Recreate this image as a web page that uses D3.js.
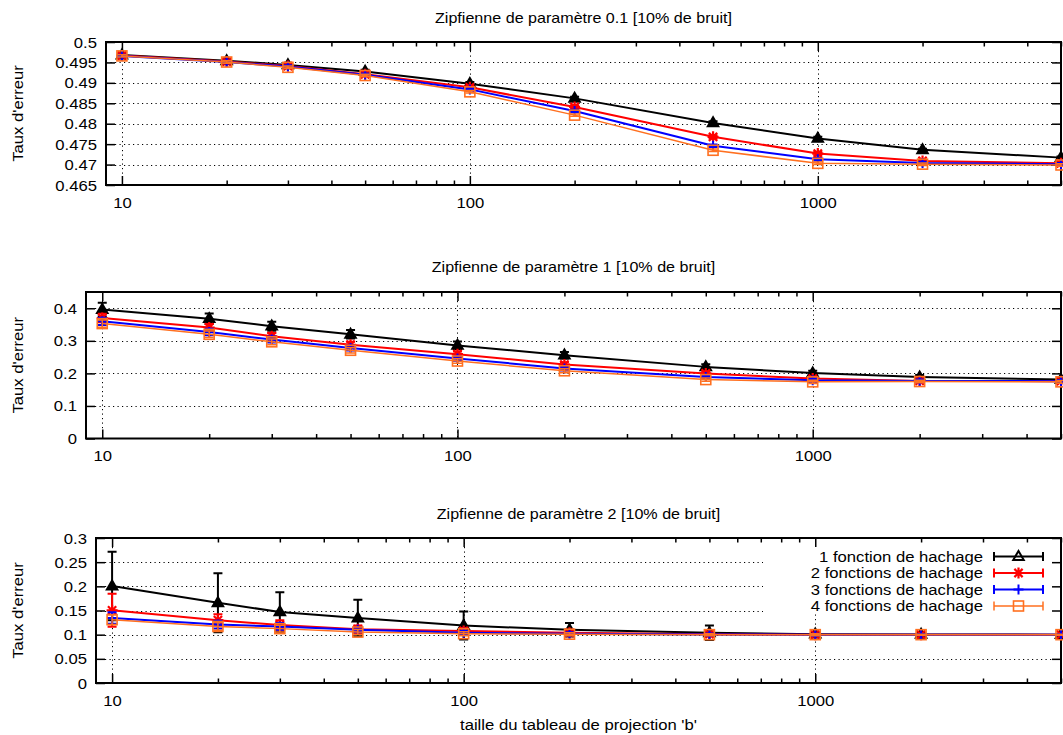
<!DOCTYPE html>
<html><head><meta charset="utf-8">
<script src="https://cdn.jsdelivr.net/npm/d3@7"></script>
<style>
html,body{margin:0;padding:0;background:#fff;}
svg{display:block;font-family:"Liberation Sans",Arial,sans-serif;}
</style></head>
<body>
<svg id="chart" width="1063" height="735"></svg>
<script>
// ---------------- DATA ----------------
const xValues = [10, 20, 30, 50, 100, 200, 500, 1000, 2000, 5000];
const seriesNames = ["1 fonction de hachage", "2 fonctions de hachage", "3 fonctions de hachage", "4 fonctions de hachage"];
const panelTitles = [
  "Zipfienne de paramètre 0.1 [10% de bruit]",
  "Zipfienne de paramètre 1 [10% de bruit]",
  "Zipfienne de paramètre 2 [10% de bruit]"
];
const yLabel = "Taux d'erreur";
const xLabel = "taille du tableau de projection 'b'";
const xTickLabels = [10, 100, 1000];

// panel 1 : Zipf 0.1
const p1_s1 = [0.4968, 0.4954, 0.4944, 0.4928, 0.4898, 0.4862, 0.4802, 0.4764, 0.4736, 0.4717];
const p1_s2 = [0.4967, 0.4952, 0.4941, 0.4921, 0.4889, 0.4841, 0.4768, 0.4727, 0.4709, 0.4703];
const p1_s3 = [0.4966, 0.4951, 0.4940, 0.4920, 0.4884, 0.4831, 0.4746, 0.4713, 0.4704, 0.4701];
const p1_s4 = [0.4966, 0.4951, 0.4938, 0.4918, 0.4878, 0.4821, 0.4735, 0.4703, 0.4701, 0.4699];
const p1_e1 = [0.0004, 0.0004, 0.0004, 0.0004, 0.0004, 0.0004, 0.0004, 0.0004, 0.0003, 0.0003];
const p1_e2 = [0.0004, 0.0004, 0.0004, 0.0004, 0.0004, 0.0004, 0.0004, 0.0004, 0.0003, 0.0003];
const p1_e3 = [0.0003, 0.0003, 0.0003, 0.0003, 0.0003, 0.0003, 0.0003, 0.0003, 0.0003, 0.0003];
const p1_e4 = [0.0003, 0.0003, 0.0003, 0.0003, 0.0003, 0.0003, 0.0003, 0.0003, 0.0003, 0.0003];
const p1_yTicks = [0.465, 0.47, 0.475, 0.48, 0.485, 0.49, 0.495, 0.5];

// panel 2 : Zipf 1
const p2_s1 = [0.396, 0.368, 0.345, 0.320, 0.286, 0.256, 0.220, 0.201, 0.189, 0.181];
const p2_s2 = [0.370, 0.341, 0.314, 0.288, 0.259, 0.227, 0.200, 0.184, 0.177, 0.176];
const p2_s3 = [0.360, 0.327, 0.304, 0.278, 0.246, 0.215, 0.189, 0.179, 0.177, 0.176];
const p2_s4 = [0.353, 0.320, 0.297, 0.271, 0.238, 0.208, 0.181, 0.174, 0.175, 0.174];
const p2_e1 = [0.021, 0.016, 0.014, 0.013, 0.012, 0.010, 0.008, 0.007, 0.006, 0.005];
const p2_e2 = [0.013, 0.011, 0.010, 0.009, 0.008, 0.007, 0.006, 0.005, 0.005, 0.005];
const p2_e3 = [0.011, 0.010, 0.009, 0.008, 0.007, 0.006, 0.005, 0.005, 0.004, 0.004];
const p2_e4 = [0.011, 0.010, 0.009, 0.008, 0.007, 0.006, 0.005, 0.005, 0.004, 0.004];
const p2_yTicks = [0, 0.1, 0.2, 0.3, 0.4];

// panel 3 : Zipf 2
const p3_s1 = [0.2007, 0.166, 0.147, 0.1345, 0.119, 0.110, 0.104, 0.101, 0.1005, 0.100];
const p3_s2 = [0.1504, 0.130, 0.120, 0.111, 0.1077, 0.104, 0.101, 0.100, 0.100, 0.100];
const p3_s3 = [0.1345, 0.121, 0.117, 0.110, 0.104, 0.102, 0.1005, 0.100, 0.100, 0.100];
const p3_s4 = [0.131, 0.117, 0.1125, 0.1055, 0.102, 0.101, 0.100, 0.100, 0.100, 0.100];
const p3_e1 = [0.071, 0.061, 0.041, 0.038, 0.029, 0.014, 0.015, 0.004, 0.003, 0.002];
const p3_e2 = [0.034, 0.012, 0.010, 0.008, 0.006, 0.004, 0.003, 0.002, 0.002, 0.001];
const p3_e3 = [0.012, 0.008, 0.007, 0.005, 0.004, 0.003, 0.002, 0.002, 0.001, 0.001];
const p3_e4 = [0.010, 0.008, 0.007, 0.005, 0.004, 0.003, 0.002, 0.002, 0.001, 0.001];
const p3_yTicks = [0, 0.05, 0.1, 0.15, 0.2, 0.25, 0.3];

// ---------------- LAYOUT / STYLE ----------------
const colors = ["#000000", "#ff0000", "#0000ff", "#ff7020"];
const widths = [2, 2, 2, 1.5];
const markers = ["triangle", "star", "plus", "square"];
const FS = 14.5, SX = 1.15;

const panels = [
  {title: panelTitles[0], s: [p1_s1, p1_s2, p1_s3, p1_s4], e: [p1_e1, p1_e2, p1_e3, p1_e4],
   yDomain: [0.465, 0.5], yTicks: p1_yTicks, fmt: d3.format("~g"),
   left: 106, right: 1061, top: 42, bottom: 185, titleY: 22.5},
  {title: panelTitles[1], s: [p2_s1, p2_s2, p2_s3, p2_s4], e: [p2_e1, p2_e2, p2_e3, p2_e4],
   yDomain: [0, 0.45], yTicks: p2_yTicks, fmt: d3.format("~g"),
   left: 86, right: 1061, top: 292, bottom: 438.5, titleY: 272},
  {title: panelTitles[2], s: [p3_s1, p3_s2, p3_s3, p3_s4], e: [p3_e1, p3_e2, p3_e3, p3_e4],
   yDomain: [0, 0.3], yTicks: p3_yTicks, fmt: d3.format("~g"),
   left: 96, right: 1061, top: 538, bottom: 683, titleY: 518.5, legend: true}
];

const svg = d3.select("#chart");

function txt(g, x, y, s, anchor, rot) {
  return g.append("text")
    .attr("transform", `translate(${x},${y})${rot ? " rotate(-90)" : ""} scale(${SX},1)`)
    .attr("text-anchor", anchor)
    .attr("font-size", FS)
    .attr("fill", "#000")
    .text(s);
}

function drawMarker(g, type, x, y, color, filled) {
  if (type === "triangle") {
    const h = 9, w = 10.5;
    g.append("path").attr("d", `M${x},${y - h * 0.62}L${x + w / 2},${y + h * 0.38}L${x - w / 2},${y + h * 0.38}Z`)
      .attr("fill", filled ? color : "none").attr("stroke", color).attr("stroke-width", 2).attr("stroke-linejoin", "miter");
  } else if (type === "star") {
    const r = 5.5;
    g.append("path").attr("d",
      `M${x - r},${y}L${x + r},${y}M${x},${y - r}L${x},${y + r}M${x - r * 0.75},${y - r * 0.75}L${x + r * 0.75},${y + r * 0.75}M${x - r * 0.75},${y + r * 0.75}L${x + r * 0.75},${y - r * 0.75}`)
      .attr("stroke", color).attr("stroke-width", 2.2).attr("fill", "none");
  } else if (type === "plus") {
    const r = 5;
    g.append("path").attr("d", `M${x - r},${y}L${x + r},${y}M${x},${y - r}L${x},${y + r}`)
      .attr("stroke", color).attr("stroke-width", 2).attr("fill", "none");
  } else if (type === "square") {
    const r = 5;
    g.append("rect").attr("x", x - r).attr("y", y - r).attr("width", 2 * r).attr("height", 2 * r)
      .attr("fill", "none").attr("stroke", color).attr("stroke-width", 1.6);
  }
}

panels.forEach((p, pi) => {
  const g = svg.append("g");
  const x = d3.scaleLog().domain([9, 5000]).range([p.left, p.right]);
  const y = d3.scaleLinear().domain(p.yDomain).range([p.bottom, p.top]);

  // grid
  const grid = g.append("g").attr("stroke", "#000").attr("stroke-width", 1)
    .attr("stroke-dasharray", "1.2,3.3").attr("fill", "none");
  p.yTicks.forEach(t => {
    const yy = Math.round(y(t)) + 0.5;
    if (Math.abs(yy - p.bottom) < 2 || Math.abs(yy - p.top) < 2) return;
    grid.append("line").attr("x1", p.left).attr("x2", p.right).attr("y1", yy).attr("y2", yy);
  });
  xTickLabels.forEach(t => {
    const xx = Math.round(x(t)) + 0.5;
    grid.append("line").attr("x1", xx).attr("x2", xx).attr("y1", p.top).attr("y2", p.bottom);
  });

  // legend background (opaque key box hides grid)
  if (p.legend) {
    g.append("rect").attr("x", 763).attr("y", p.top + 1).attr("width", p.right - 763 - 1).attr("height", 75).attr("fill", "#fff");
  }

  // axes using d3 axis generators (ticks inside, mirrored)
  const majorX = xTickLabels;
  const minorX = [];
  [10, 100, 1000].forEach(d => { for (let k = 2; k <= 9; k++) { const v = d * k; if (v <= 5000) minorX.push(v); } });

  const axB = g.append("g").attr("transform", `translate(0,${p.bottom})`)
    .call(d3.axisBottom(x).tickValues(majorX).tickSizeInner(-9).tickSizeOuter(0).tickFormat(d3.format("d")));
  const axBm = g.append("g").attr("transform", `translate(0,${p.bottom})`)
    .call(d3.axisBottom(x).tickValues(minorX).tickSizeInner(-4.5).tickSizeOuter(0).tickFormat(""));
  const axT = g.append("g").attr("transform", `translate(0,${p.top})`)
    .call(d3.axisTop(x).tickValues(majorX).tickSizeInner(-9).tickSizeOuter(0).tickFormat(""));
  const axTm = g.append("g").attr("transform", `translate(0,${p.top})`)
    .call(d3.axisTop(x).tickValues(minorX).tickSizeInner(-4.5).tickSizeOuter(0).tickFormat(""));
  const axL = g.append("g").attr("transform", `translate(${p.left},0)`)
    .call(d3.axisLeft(y).tickValues(p.yTicks).tickSizeInner(-9).tickSizeOuter(0).tickFormat(p.fmt));
  const axR = g.append("g").attr("transform", `translate(${p.right},0)`)
    .call(d3.axisRight(y).tickValues(p.yTicks).tickSizeInner(-9).tickSizeOuter(0).tickFormat(""));
  [axB, axBm, axT, axTm, axL, axR].forEach(a => {
    a.select(".domain").remove();
    a.selectAll(".tick line").attr("stroke", "#000").attr("stroke-width", 1.5);
  });
  axB.selectAll(".tick text").each(function () {
    d3.select(this).attr("y", null).attr("dy", null).attr("font-size", FS).attr("font-family", null)
      .attr("transform", `translate(0,${22.5}) scale(${SX},1)`).attr("fill", "#000");
  });
  axL.selectAll(".tick text").each(function () {
    d3.select(this).attr("x", null).attr("dy", null).attr("font-size", FS).attr("font-family", null)
      .attr("transform", `translate(-9,5) scale(${SX},1)`).attr("fill", "#000");
  });

  // border
  g.append("rect").attr("x", p.left).attr("y", p.top).attr("width", p.right - p.left).attr("height", p.bottom - p.top)
    .attr("fill", "none").attr("stroke", "#000").attr("stroke-width", 2);

  // title & y label
  txt(g, (p.left + p.right) / 2, p.titleY, p.title, "middle").attr("font-size", 14);
  txt(g, 23, (p.top + p.bottom) / 2, yLabel, "middle", true);

  // data
  const line = d3.line().x(d => x(d[0])).y(d => y(d[1]));
  p.s.forEach((vals, si) => {
    const sg = g.append("g");
    const pts = xValues.map((xv, i) => [xv, vals[i], p.e[si][i]]);
    sg.append("path").datum(pts).attr("d", line).attr("fill", "none")
      .attr("stroke", colors[si]).attr("stroke-width", widths[si]).attr("stroke-linejoin", "round");
    pts.forEach(d => {
      const xx = x(d[0]), y1 = y(d[1] + d[2]), y0 = y(d[1] - d[2]);
      sg.append("path").attr("d", `M${xx},${y0}L${xx},${y1}M${xx - 4.5},${y1}L${xx + 4.5},${y1}M${xx - 4.5},${y0}L${xx + 4.5},${y0}`)
        .attr("stroke", colors[si]).attr("stroke-width", widths[si]).attr("fill", "none");
      drawMarker(sg, markers[si], xx, y(d[1]), colors[si], true);
    });
  });

  // legend
  if (p.legend) {
    const lg = g.append("g");
    const ly0 = 556.5, dy = 16.5, lx1 = 994, lx2 = 1043, lm = 1018.5;
    seriesNames.forEach((nm, si) => {
      const yy = ly0 + si * dy;
      txt(lg, 983, yy + 5, nm, "end");
      lg.append("path").attr("d", `M${lx1},${yy}L${lx2},${yy}M${lx1},${yy - 4.5}L${lx1},${yy + 4.5}M${lx2},${yy - 4.5}L${lx2},${yy + 4.5}`)
        .attr("stroke", colors[si]).attr("stroke-width", widths[si]).attr("fill", "none");
      drawMarker(lg, markers[si], lm, yy, colors[si], false);
    });
  }

  if (pi === 2) {
    txt(g, (p.left + p.right) / 2, 730, xLabel, "middle");
  }
});
</script>
</body></html>
